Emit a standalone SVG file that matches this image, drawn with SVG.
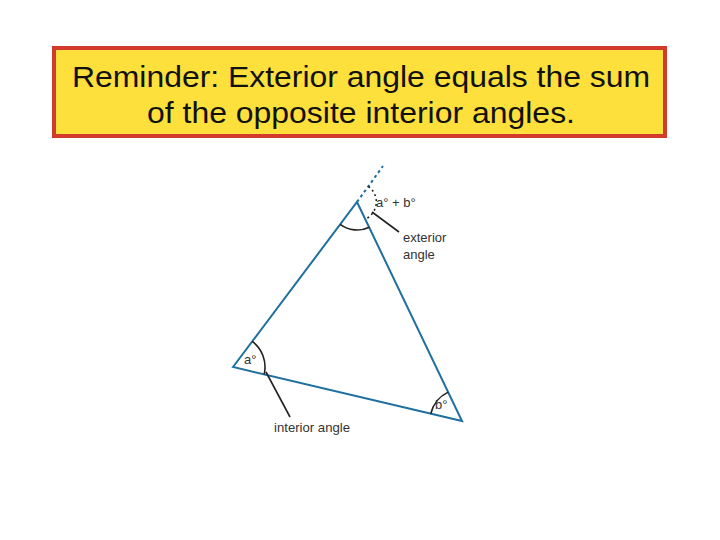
<svg xmlns="http://www.w3.org/2000/svg" width="720" height="540" viewBox="0 0 720 540">
<style>
.title{font-family:"Liberation Sans",Arial,sans-serif;font-size:30px;fill:#111}
.lbl{font-family:"Liberation Sans",Arial,sans-serif;font-size:13px;fill:#333}
.side{stroke:#1f6f9f;stroke-width:2;fill:none;stroke-linecap:round}
.arc{stroke:#222;stroke-width:1.6;fill:none}
.lead{stroke:#222;stroke-width:1.6}
</style>
<rect width="720" height="540" fill="#fff"/>
<g id="title-box">
<rect x="54" y="48" width="611" height="88" fill="#fde03c" stroke="#d33a2c" stroke-width="4"/>
<text class="title" x="72" y="87" textLength="578" lengthAdjust="spacingAndGlyphs">Reminder: Exterior angle equals the sum</text>
<text class="title" x="147" y="123" textLength="428" lengthAdjust="spacingAndGlyphs">of the opposite interior angles.</text>
</g>
<g id="triangle">
<path class="side" d="M233,367 L357,202 L462,421 Z"/>
<line x1="357" y1="202" x2="383" y2="166" stroke="#1f6f9f" stroke-width="2" stroke-dasharray="3,3"/>
</g>
<g id="angles">
<path class="arc" d="M340.2,224.4 A28,28 0 0 0 369.3,227.2"/>
<path class="arc" d="M252.2,341.4 A32,32 0 0 1 264.2,374.2"/>
<path class="arc" d="M430.8,413.8 A32,32 0 0 1 448.2,392.1"/>
<path d="M368.5,186.5 A19,19 0 0 1 365.3,219.1" stroke="#222" stroke-width="1.6" fill="none" stroke-dasharray="2,3"/>
</g>
<g id="connectors">
<line class="lead" x1="372" y1="212" x2="399" y2="232"/>
<line class="lead" x1="266" y1="372" x2="290" y2="417"/>
</g>
<g id="labels">
<text class="lbl" x="376" y="207" font-size="12">a° + b°</text>
<text class="lbl" x="403" y="242">exterior</text>
<text class="lbl" x="403" y="259">angle</text>
<text class="lbl" x="244" y="364">a°</text>
<text class="lbl" x="435" y="409">b°</text>
<text class="lbl" x="274" y="432" textLength="76" lengthAdjust="spacingAndGlyphs">interior angle</text>
</g>
</svg>
